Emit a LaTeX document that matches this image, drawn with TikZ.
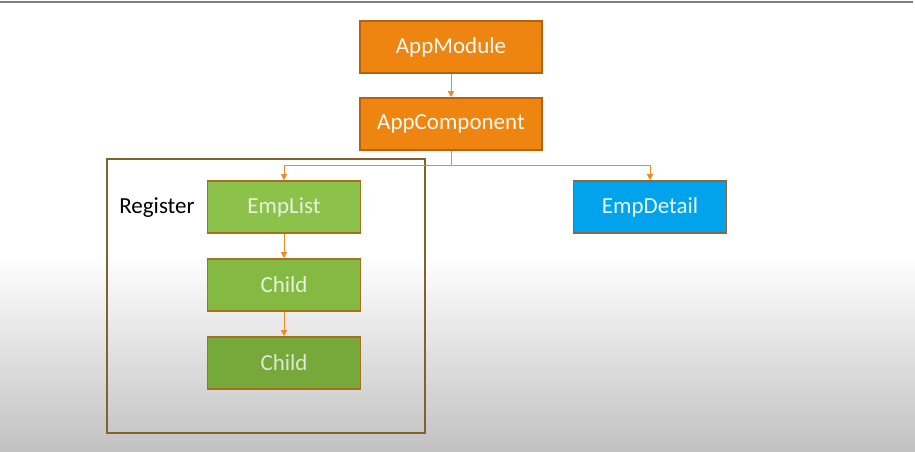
\documentclass[tikz,border=0pt]{standalone}
\usepackage{fontspec}
\setmainfont{Carlito}
\usetikzlibrary{arrows.meta}

\definecolor{apporange}{HTML}{EE8510}
\definecolor{appedge}{HTML}{B8600C}
\definecolor{empgreen}{HTML}{8CC24A}
\definecolor{childgreen}{HTML}{84B942}
\definecolor{childdark}{HTML}{76A83A}
\definecolor{greenedge}{HTML}{A8701C}
\definecolor{greentext}{HTML}{E6F2DA}
\definecolor{empblue}{HTML}{00A3EC}
\definecolor{blueedge}{HTML}{8A6A3A}
\definecolor{frameedge}{HTML}{84602A}
\definecolor{linkorange}{HTML}{EE8A2A}

\begin{document}
\begin{tikzpicture}[x=1pt, y=-1pt,
    box/.style={draw, line width=1.6pt, minimum height=52pt, inner sep=0pt,
        font=\fontsize{23}{28}\selectfont},
    orangebox/.style={box, fill=apporange, draw=appedge, text=white!95!orange, minimum width=182pt},
    greenbox/.style={box, fill=empgreen, draw=greenedge, text=greentext, minimum width=153pt},
    bluebox/.style={box, fill=empblue, draw=blueedge, text=white!92!cyan, minimum width=153pt},
    link/.style={draw=linkorange, line width=1pt, -{Triangle[width=6pt, length=6pt]}}]

    % Background
    \useasboundingbox (0,0) rectangle (915,451);
    \fill[white] (0,0) rectangle (915,256);
    \shade[top color=white, bottom color=black!24] (0,255) rectangle (915,451);
    \draw[black!50, line width=1.6pt] (0,2) -- (913,2);

    % Register frame
    \draw[frameedge, line width=1.6pt] (107,159) rectangle (425,433);
    \node[font=\fontsize{23}{28}\selectfont] (register) at (157,208) {Register};

    % Boxes
    \node[orangebox] (module) at (451,47) {AppModule};
    \node[orangebox] (comp) at (451,124) {AppComponent};
    \node[greenbox] (emplist) at (284,207) {EmpList};
    \node[greenbox, fill=childgreen] (child1) at (284,285) {Child};
    \node[greenbox, fill=childdark, text=greentext!90!gray] (child2) at (284,363) {Child};
    \node[bluebox] (detail) at (650,207) {EmpDetail};

    % Connectors
    \coordinate (split) at (451,165);
    \draw[link] (module) -- (comp);
    \draw[link] (comp.south) -- (split) -| (emplist.north);
    \draw[link] (split) -| (detail.north);
    \draw[link] (emplist) -- (child1);
    \draw[link] (child1) -- (child2);
\end{tikzpicture}
\end{document}
